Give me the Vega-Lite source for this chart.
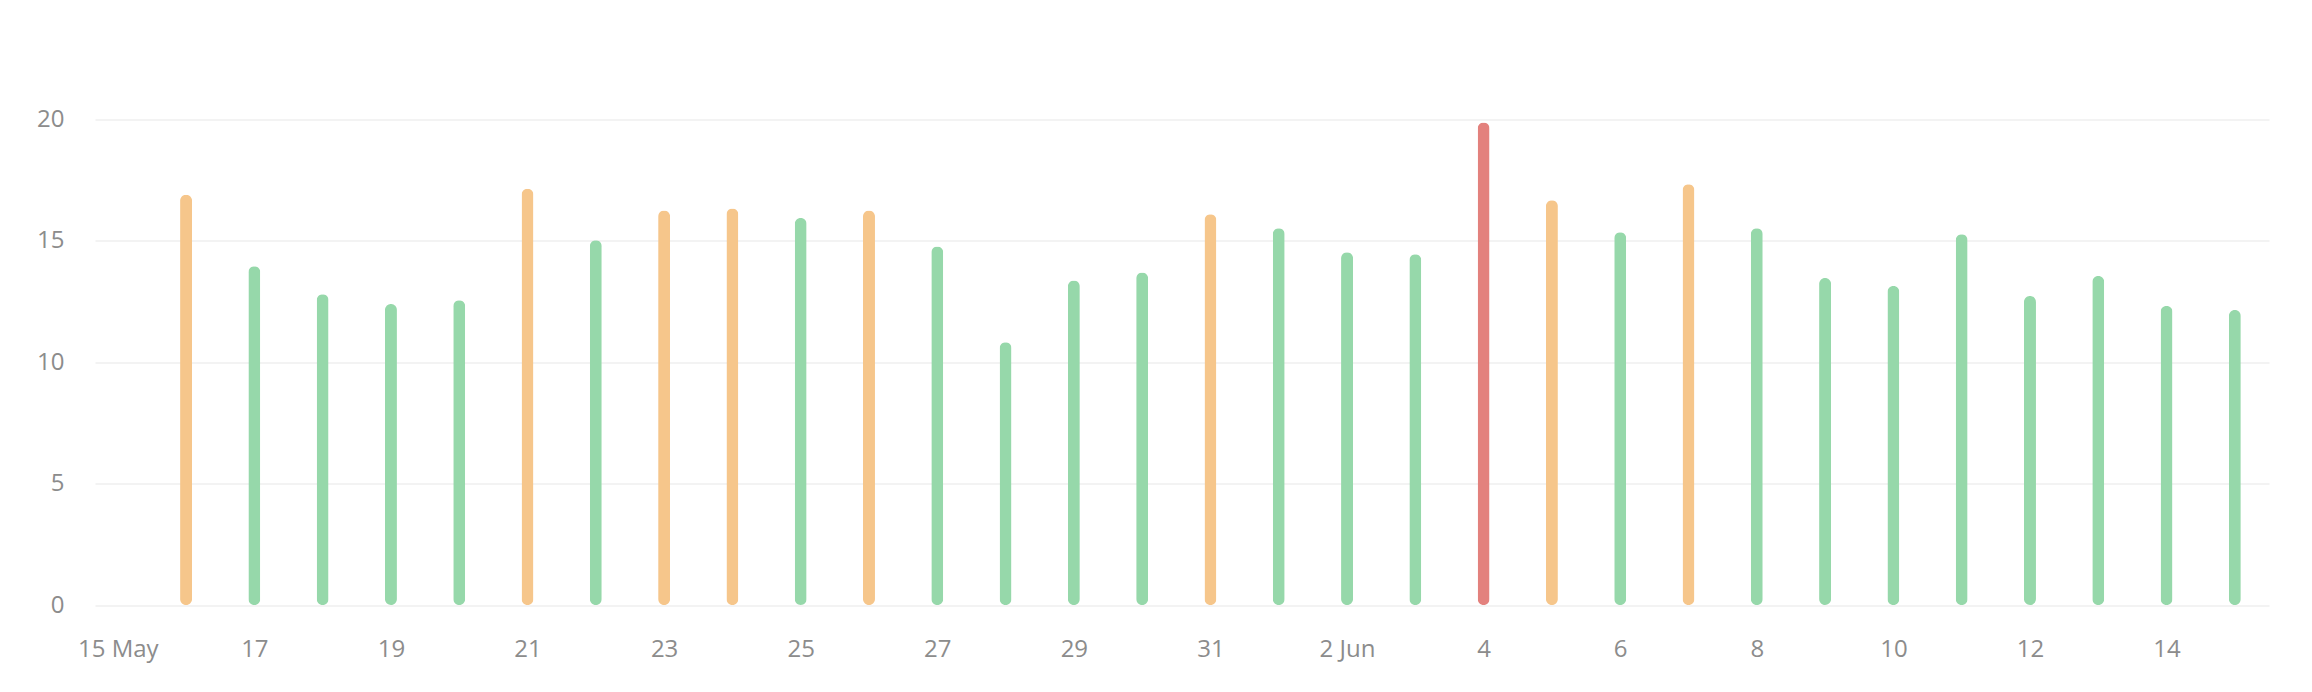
{
  "$schema": "https://vega.github.io/schema/vega-lite/v6.json",
  "width": 2174,
  "height": 485.5,
  "autosize": {"type": "none"},
  "padding": {"left": 95, "top": 119.5, "right": 43, "bottom": 87},
  "background": "#ffffff",
  "config": {
    "view": {"stroke": null},
    "axis": {"labelFont": "Open Sans", "labelFontSize": 24, "labelColor": "#8c8c8c"}
  },
  "data": {
    "values": [
      {"date": "2023-05-16T00:00:00", "value": 16.9, "level": "high"},
      {"date": "2023-05-17T00:00:00", "value": 13.95, "level": "normal"},
      {"date": "2023-05-18T00:00:00", "value": 12.8, "level": "normal"},
      {"date": "2023-05-19T00:00:00", "value": 12.4, "level": "normal"},
      {"date": "2023-05-20T00:00:00", "value": 12.55, "level": "normal"},
      {"date": "2023-05-21T00:00:00", "value": 17.15, "level": "high"},
      {"date": "2023-05-22T00:00:00", "value": 15.03, "level": "normal"},
      {"date": "2023-05-23T00:00:00", "value": 16.25, "level": "high"},
      {"date": "2023-05-24T00:00:00", "value": 16.33, "level": "high"},
      {"date": "2023-05-25T00:00:00", "value": 15.94, "level": "normal"},
      {"date": "2023-05-26T00:00:00", "value": 16.25, "level": "high"},
      {"date": "2023-05-27T00:00:00", "value": 14.77, "level": "normal"},
      {"date": "2023-05-28T00:00:00", "value": 10.82, "level": "normal"},
      {"date": "2023-05-29T00:00:00", "value": 13.37, "level": "normal"},
      {"date": "2023-05-30T00:00:00", "value": 13.7, "level": "normal"},
      {"date": "2023-05-31T00:00:00", "value": 16.1, "level": "high"},
      {"date": "2023-06-01T00:00:00", "value": 15.52, "level": "normal"},
      {"date": "2023-06-02T00:00:00", "value": 14.53, "level": "normal"},
      {"date": "2023-06-03T00:00:00", "value": 14.45, "level": "normal"},
      {"date": "2023-06-04T00:00:00", "value": 19.88, "level": "critical"},
      {"date": "2023-06-05T00:00:00", "value": 16.67, "level": "high"},
      {"date": "2023-06-06T00:00:00", "value": 15.36, "level": "normal"},
      {"date": "2023-06-07T00:00:00", "value": 17.33, "level": "high"},
      {"date": "2023-06-08T00:00:00", "value": 15.52, "level": "normal"},
      {"date": "2023-06-09T00:00:00", "value": 13.47, "level": "normal"},
      {"date": "2023-06-10T00:00:00", "value": 13.14, "level": "normal"},
      {"date": "2023-06-11T00:00:00", "value": 15.27, "level": "normal"},
      {"date": "2023-06-12T00:00:00", "value": 12.73, "level": "normal"},
      {"date": "2023-06-13T00:00:00", "value": 13.55, "level": "normal"},
      {"date": "2023-06-14T00:00:00", "value": 12.32, "level": "normal"},
      {"date": "2023-06-15T00:00:00", "value": 12.15, "level": "normal"}
    ]
  },
  "mark": {"type": "bar", "width": 12, "cornerRadius": 6},
  "encoding": {
    "x": {
      "field": "date",
      "type": "temporal",
      "title": null,
      "scale": {
        "domain": [
          {"year": 2023, "month": 5, "date": 14, "hours": 16},
          {"year": 2023, "month": 6, "date": 15, "hours": 12}
        ],
        "padding": 0
      },
      "axis": {
        "grid": false,
        "domain": false,
        "ticks": false,
        "labelPadding": 32,
        "labelBaseline": "top",
        "labelFlush": false,
        "labelOverlap": false,
        "values": [
          {"year": 2023, "month": 5, "date": 15},
          {"year": 2023, "month": 5, "date": 17},
          {"year": 2023, "month": 5, "date": 19},
          {"year": 2023, "month": 5, "date": 21},
          {"year": 2023, "month": 5, "date": 23},
          {"year": 2023, "month": 5, "date": 25},
          {"year": 2023, "month": 5, "date": 27},
          {"year": 2023, "month": 5, "date": 29},
          {"year": 2023, "month": 5, "date": 31},
          {"year": 2023, "month": 6, "date": 2},
          {"year": 2023, "month": 6, "date": 4},
          {"year": 2023, "month": 6, "date": 6},
          {"year": 2023, "month": 6, "date": 8},
          {"year": 2023, "month": 6, "date": 10},
          {"year": 2023, "month": 6, "date": 12},
          {"year": 2023, "month": 6, "date": 14}
        ],
        "labelExpr": "(datum.index == 0 || date(datum.value) == 2) ? timeFormat(datum.value, '%-d %b') : timeFormat(datum.value, '%-d')"
      }
    },
    "y": {
      "field": "value",
      "type": "quantitative",
      "title": null,
      "scale": {"domain": [0, 20], "nice": false},
      "axis": {
        "values": [0, 5, 10, 15, 20],
        "grid": true,
        "gridColor": "#f3f3f3",
        "gridWidth": 2,
        "domain": false,
        "ticks": false,
        "labelPadding": 31
      }
    },
    "color": {
      "field": "level",
      "type": "nominal",
      "legend": null,
      "scale": {"domain": ["normal", "high", "critical"], "range": ["#96d8aa", "#f6c68b", "#e3817d"]}
    }
  }
}
